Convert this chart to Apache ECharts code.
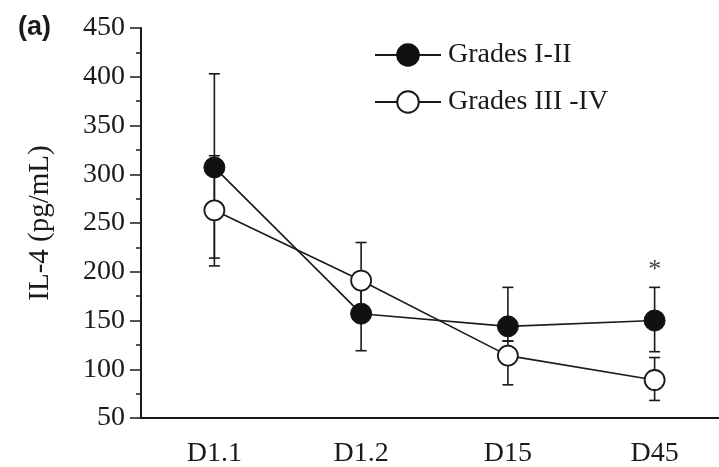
<!DOCTYPE html>
<html>
<head>
<meta charset="utf-8">
<script src="https://cdn.jsdelivr.net/npm/echarts@6/dist/echarts.min.js"></script>
<style>
html,body{margin:0;padding:0;background:#fff;}
#c{width:719px;height:467px;}
</style>
</head>
<body>
<div id="c"></div>
<script>
var categories = ['D1.1', 'D1.2', 'D15', 'D45'];
var seriesNames = ['Grades I-II', 'Grades III -IV'];
var gradesLow = [307, 157, 144, 150];
var gradesLowErrLower = [214, 119, 129, 118];
var gradesLowErrUpper = [403, 195, 184, 184];
var gradesHigh = [263, 191, 114, 89];
var gradesHighErrLower = [206, 152, 84, 68];
var gradesHighErrUpper = [319, 230, 129, 112];
var starIndex = 3;
var starValue = 202;
var yTicks = [50, 100, 150, 200, 250, 300, 350, 400, 450];

var serif = 'Liberation Serif';

function errData(lo, hi) {
  return categories.map(function (c, i) { return [i, lo[i], hi[i]]; });
}

function errRender(params, api) {
  var x = api.value(0);
  var p1 = api.coord([x, api.value(1)]);
  var p2 = api.coord([x, api.value(2)]);
  var hw = 5.5;
  var st = { stroke: '#1a1a1a', lineWidth: 1.6 };
  return {
    type: 'group',
    children: [
      { type: 'line', shape: { x1: p1[0], y1: p1[1], x2: p2[0], y2: p2[1] }, style: st },
      { type: 'line', shape: { x1: p1[0] - hw, y1: p1[1], x2: p1[0] + hw, y2: p1[1] }, style: st },
      { type: 'line', shape: { x1: p2[0] - hw, y1: p2[1], x2: p2[0] + hw, y2: p2[1] }, style: st }
    ]
  };
}

var chart = echarts.init(document.getElementById('c'));
chart.setOption({
  animation: false,
  backgroundColor: '#fff',
  title: {
    text: '(a)', left: 13, top: 9,
    textStyle: { fontFamily: 'Liberation Sans', fontWeight: 'bold', fontSize: 27, color: '#1a1a1a' }
  },
  legend: {
    orient: 'vertical', left: 369, top: 36,
    itemWidth: 66, itemHeight: 27, itemGap: 19,
    data: seriesNames,
    textStyle: { fontFamily: serif, fontSize: 28, lineHeight: 27, color: '#1a1a1a', padding: [0, 0, 0, 2] }
  },
  grid: { left: 141, width: 587, top: 28, bottom: 49, containLabel: false, outerBoundsMode: 'none' },
  xAxis: {
    type: 'category', data: categories, boundaryGap: true,
    axisLine: { lineStyle: { color: '#1a1a1a', width: 2 } },
    axisTick: { alignWithLabel: true, length: 5, lineStyle: { color: '#1a1a1a', width: 1.5 } },
    axisLabel: { margin: 22, fontFamily: serif, fontSize: 28, color: '#1a1a1a' },
    splitLine: { show: false }
  },
  yAxis: {
    type: 'value', min: yTicks[0], max: yTicks[yTicks.length - 1], interval: 50,
    name: 'IL-4 (pg/mL)', nameLocation: 'middle', nameGap: 86, nameRotate: 90,
    nameTextStyle: { fontFamily: serif, fontSize: 29, color: '#1a1a1a' },
    axisLine: { show: true, lineStyle: { color: '#1a1a1a', width: 2 } },
    axisTick: { show: true, length: 11, lineStyle: { color: '#1a1a1a', width: 1.5 } },
    minorTick: { show: true, splitNumber: 2, length: 5, lineStyle: { color: '#1a1a1a', width: 1.5 } },
    axisLabel: { margin: 16, fontFamily: serif, fontSize: 28, color: '#1a1a1a' },
    splitLine: { show: false }
  },
  series: [
    {
      type: 'custom', name: 'errLow', renderItem: errRender, z: 1,
      data: errData(gradesLowErrLower, gradesLowErrUpper), silent: true
    },
    {
      type: 'custom', name: 'errHigh', renderItem: errRender, z: 1,
      data: errData(gradesHighErrLower, gradesHighErrUpper), silent: true
    },
    {
      name: seriesNames[0], type: 'line', data: gradesLow, z: 3,
      symbol: 'circle', symbolSize: 21, showAllSymbol: true,
      lineStyle: { color: '#1a1a1a', width: 1.6 },
      itemStyle: { color: '#111', borderColor: '#111', borderWidth: 1 }
    },
    {
      name: seriesNames[1], type: 'line', data: gradesHigh, z: 3,
      symbol: 'circle', symbolSize: 20, showAllSymbol: true,
      lineStyle: { color: '#1a1a1a', width: 1.6 },
      itemStyle: { color: '#fff', borderColor: '#1a1a1a', borderWidth: 1.8 }
    },
    {
      type: 'custom', name: 'star', z: 4, silent: true,
      data: [[starIndex, starValue]],
      renderItem: function (params, api) {
        var p = api.coord([api.value(0), api.value(1)]);
        return {
          type: 'text', x: p[0], y: p[1],
          style: { text: '*', fontFamily: serif, fontSize: 26, fill: '#444', align: 'center', verticalAlign: 'middle' }
        };
      }
    }
  ]
});
</script>
</body>
</html>
